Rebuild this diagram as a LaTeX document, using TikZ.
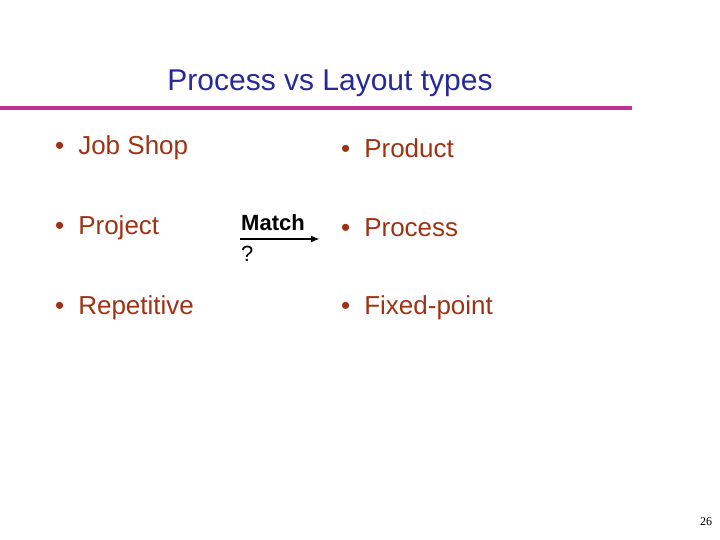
\documentclass[tikz,border=0pt]{standalone}
\usepackage{fontspec}
\usetikzlibrary{arrows.meta}
\setmainfont{Liberation Sans}
\newfontfamily\serifnum{Liberation Serif}
\definecolor{ttl}{RGB}{40,40,150}
\definecolor{itm}{RGB}{160,50,20}
\definecolor{rule}{RGB}{190,50,150}
\begin{document}
\begin{tikzpicture}[x=1pt,y=-1pt,
  item/.style={anchor=west,text=itm,font=\fontsize{26}{30}\selectfont,inner sep=0pt}]
\useasboundingbox (0,0) rectangle (720,540);
\node[text=ttl,font=\fontsize{30}{34}\selectfont,inner sep=0pt] (title) at (330,83) {Process vs Layout types};
\draw[rule,line width=4pt] (0,108) -- (632,108);
\node[item] (a1) at (55,148) {•\hspace{14pt}Job Shop};
\node[item] (a2) at (55,228) {•\hspace{14pt}Project};
\node[item] (a3) at (55,308) {•\hspace{14pt}Repetitive};
\node[item] (b1) at (341,148) {•\hspace{14pt}Product};
\node[item] (b2) at (341,228) {•\hspace{14pt}Process};
\node[item] (b3) at (341,308) {•\hspace{14pt}Fixed-point};
\node[anchor=west,font=\bfseries\fontsize{22}{24}\selectfont,inner sep=0pt] (m) at (241,223) {Match};
\node[anchor=west,font=\fontsize{22}{24}\selectfont,inner sep=0pt] (q) at (241,254) {?};
\coordinate (s) at (240,239);
\coordinate (e) at (320,239);
\draw[line width=2pt,-{Latex[length=9pt,width=7pt]}] (s) -- (e);
\node[font=\serifnum\fontsize{12}{14}\selectfont,inner sep=0pt] (pg) at (706,522) {26};
\end{tikzpicture}
\end{document}
